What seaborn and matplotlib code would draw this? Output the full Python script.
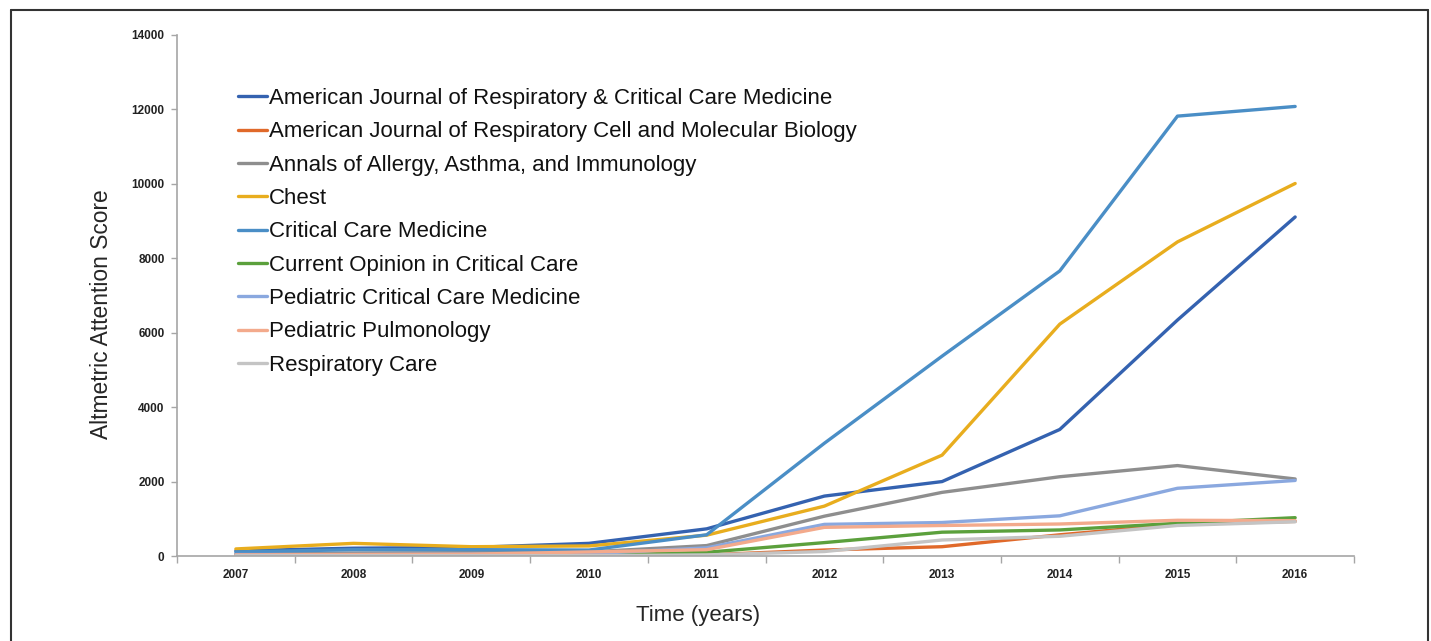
import matplotlib
matplotlib.use("Agg")
import matplotlib.pyplot as plt
from matplotlib.lines import Line2D
from matplotlib.ticker import FixedLocator
import numpy as np
import pandas as pd
import seaborn as sns

# --- Data ---
years = [2007, 2008, 2009, 2010, 2011, 2012, 2013, 2014, 2015, 2016]

journals = [
    "American Journal of Respiratory & Critical Care Medicine",
    "American Journal of Respiratory Cell and Molecular Biology",
    "Annals of Allergy, Asthma, and Immunology",
    "Chest",
    "Critical Care Medicine",
    "Current Opinion in Critical Care",
    "Pediatric Critical Care Medicine",
    "Pediatric Pulmonology",
    "Respiratory Care",
]

ajrccm = [140, 210, 230, 340, 730, 1610, 2000, 3400, 6340, 9110]
ajrcmb = [10, 10, 10, 15, 30, 160, 250, 570, 850, 930]
annals = [60, 80, 90, 110, 280, 1070, 1710, 2130, 2430, 2070]
chest = [190, 340, 250, 270, 560, 1340, 2710, 6230, 8440, 10010]
ccm = [110, 170, 170, 160, 570, 3030, 5370, 7660, 11820, 12080]
cocc = [10, 20, 20, 20, 100, 360, 640, 700, 880, 1030]
pccm = [40, 40, 50, 60, 220, 850, 900, 1080, 1820, 2030]
ped_pulm = [30, 40, 50, 110, 170, 770, 820, 860, 960, 950]
resp_care = [10, 10, 10, 10, 30, 120, 430, 530, 820, 920]

series = [ajrccm, ajrcmb, annals, chest, ccm, cocc, pccm, ped_pulm, resp_care]

colors = ["#3462b0", "#e0692a", "#8e8e8e", "#e8ad1e", "#4a8ec6",
          "#5ba03c", "#8aa8df", "#f3aa8c", "#c4c4c4"]

# long-form table for seaborn
df = pd.DataFrame({
    "Year": np.tile(years, len(journals)),
    "Score": np.concatenate(series),
    "Journal": np.repeat(journals, len(years)),
})

# --- Plot ---
sns.set_style("ticks")
plt.rcParams["font.family"] = ["Liberation Sans", "DejaVu Sans"]

fig = plt.figure(figsize=(14.31, 6.41), dpi=100)
ax = fig.add_axes([0.1237, 0.1326, 0.8225, 0.8128])

sns.lineplot(data=df, x="Year", y="Score", hue="Journal", hue_order=journals,
             palette=colors, linewidth=2.4, ax=ax)

ax.set_xlim(2006.5, 2016.5)
ax.set_ylim(0, 14000)
ax.set_yticks(np.arange(0, 14001, 2000))
ax.set_xticks(years)
ax.set_xticklabels([str(y) for y in years])
ax.xaxis.set_minor_locator(FixedLocator(np.arange(2006.5, 2017, 1)))
ax.tick_params(axis="x", which="major", length=0, pad=9)
ax.tick_params(axis="x", which="minor", length=5, width=1, color="#a6a6a6", direction="out")
ax.tick_params(axis="y", length=4, width=1, color="#a6a6a6", pad=5)
for lab in ax.get_xticklabels() + ax.get_yticklabels():
    lab.set_fontsize(8.5)
    lab.set_fontweight("bold")
    lab.set_color("#222222")

for side in ["top", "right"]:
    ax.spines[side].set_visible(False)
for side in ["left", "bottom"]:
    ax.spines[side].set_color("#a6a6a6")
    ax.spines[side].set_linewidth(1.2)

ax.set_xlabel("Time (years)", fontsize=16)
ax.set_ylabel("Altmetric Attention Score", fontsize=16.4)
ax.xaxis.set_label_coords(0.4427, -0.094)
ax.yaxis.set_label_coords(-0.054, 0.4645)

leg = ax.legend(loc="upper left", bbox_to_anchor=(0.052, 0.898), frameon=False,
                fontsize=16, handlelength=1.3, handletextpad=0.1,
                labelspacing=0.555, borderpad=0, borderaxespad=0)
for line in leg.get_lines():
    line.set_linewidth(2.4)
for txt in leg.get_texts():
    txt.set_color("#111111")

# outer frame (left, top, right edges)
frame_kw = dict(color="#333333", linewidth=1.5, transform=fig.transFigure)
fig.add_artist(Line2D([0.0075, 0.0075], [0, 0.985], **frame_kw))
fig.add_artist(Line2D([0.0075, 0.998], [0.985, 0.985], **frame_kw))
fig.add_artist(Line2D([0.998, 0.998], [0, 0.985], **frame_kw))

fig.savefig("out.png", dpi=100)
